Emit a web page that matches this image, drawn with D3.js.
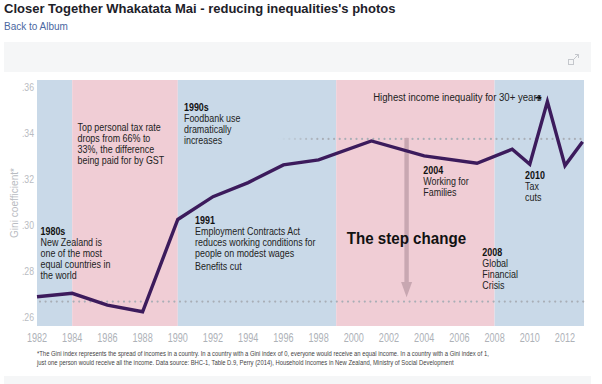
<!DOCTYPE html>
<html>
<head>
<meta charset="utf-8">
<script src="https://cdn.jsdelivr.net/npm/d3@7"></script>
<style>
  body { margin:0; background:#fff; }
  svg { display:block; }
</style>
</head>
<body>
<div id="chart"></div>
<script>
// gini coefficient, NZ household incomes
const years = [1982,1984,1986,1988,1990,1992,1994,1996,1998,2001,2004,2007,2009,2010,2011,2012,2013];
const gini  = [.2688,.2703,.2652,.2623,.3024,.3123,.3184,.3261,.3283,.3365,.3300,.3268,.3329,.3264,.3536,.3258,.3362];

const yearTicks = [1982,1984,1986,1988,1990,1992,1994,1996,1998,2000,2002,2004,2006,2008,2010,2012];
const giniTicks = [.26,.28,.30,.32,.34,.36];

// period edges, alternating blue / pink
const bandEdges = [1982,1984,1990,1999,2008,2013.08];
const refLevels = [.2667,.3374];

const notes = [
  {year:1982.2, value:.2971, head:"1980s", lines:["New Zealand is","one of the most","equal countries in","the world"]},
  {year:1984.3, value:.3425, head:null, lines:["Top personal tax rate","drops from 66% to","33%, the difference","being paid for by GST"]},
  {year:1990.35, value:.3510, head:"1990s", lines:["Foodbank use","dramatically","increases"]},
  {year:1990.98, value:.3019, head:"1991", lines:["Employment Contracts Act","reduces working conditions for","people on modest wages"], extra:"Benefits cut"},
  {year:2003.95, value:.3239, head:"2004", lines:["Working for","Families"]},
  {year:2009.73, value:.3217, head:"2010", lines:["Tax","cuts"]},
  {year:2007.3, value:.2880, head:"2008", lines:["Global","Financial","Crisis"]}
];

const W = 602, H = 384;
const svg = d3.select("#chart").append("svg").attr("width",W).attr("height",H);
const sans = "'Liberation Sans',Arial,sans-serif";

// condensed look: squeeze Liberation Sans horizontally
function label(parent, x, y, str, o) {
  o = o || {};
  return parent.append("text")
    .attr("transform",`translate(${x},${y}) scale(${o.sx||1},1)`)
    .attr("dy","0.35em")
    .attr("text-anchor",o.anchor||"start")
    .style("font",(o.bold?"bold ":"")+(o.size||10)+"px "+sans)
    .attr("fill",o.fill||"#222")
    .text(str);
}

// page chrome
svg.append("text").attr("x",4).attr("y",13)
  .style("font","bold 13px "+sans).attr("fill","#1d2129")
  .text("Closer Together Whakatata Mai - reducing inequalities's photos");
svg.append("text").attr("x",4).attr("y",30)
  .style("font","10px "+sans).attr("fill","#4b67a1")
  .text("Back to Album");
svg.append("rect").attr("x",4).attr("y",42).attr("width",587).attr("height",30).attr("fill","#f5f6f7");
svg.append("rect").attr("x",4).attr("y",376).attr("width",587).attr("height",10).attr("fill","#f5f6f7");
const ic = svg.append("g").attr("transform","translate(568,55)").attr("fill","none").attr("stroke","#c4c7cc").attr("stroke-width",1);
ic.append("rect").attr("x",0.5).attr("y",4.5).attr("width",5).attr("height",5);
ic.append("path").attr("d","M5.5,4.5 L10.5,-0.5 M7,-0.5 H10.5 V3");

const x = d3.scaleLinear().domain([1982,2013.08]).range([37,584]);
const y = d3.scaleLinear().domain([.2561,.3630]).range([326,80]);

// background periods
svg.append("g").selectAll("rect").data(d3.pairs(bandEdges)).join("rect")
  .attr("x",d=>x(d[0])).attr("width",d=>x(d[1])-x(d[0]))
  .attr("y",y.range()[1]).attr("height",y.range()[0]-y.range()[1])
  .attr("fill",(d,i)=>i%2 ? "#f0cdd5" : "#c9d9e8");

// dotted reference lines
const defs = svg.append("defs");
const fade = defs.append("linearGradient").attr("id","fade").attr("gradientUnits","userSpaceOnUse")
  .attr("x1",x(1995.7)).attr("x2",x(1998));
fade.append("stop").attr("offset",0).attr("stop-color","#a9aeb6").attr("stop-opacity",0);
fade.append("stop").attr("offset",1).attr("stop-color","#a9aeb6").attr("stop-opacity",1);

svg.append("line").attr("x1",x(1982)+3).attr("x2",x.range()[1])
  .attr("y1",y(refLevels[0])).attr("y2",y(refLevels[0]))
  .attr("stroke","#a9aeb6").attr("stroke-width",2.2).attr("stroke-dasharray","0 5.6").attr("stroke-linecap","round");
svg.append("line").attr("x1",x(1995.7)).attr("x2",x.range()[1])
  .attr("y1",y(refLevels[1])).attr("y2",y(refLevels[1]))
  .attr("stroke","url(#fade)").attr("stroke-width",2.2).attr("stroke-dasharray","0 5.6").attr("stroke-linecap","round");

// step change arrow
const ax = x(2003);
svg.append("rect").attr("x",ax-2.2).attr("width",4.4).attr("y",y(refLevels[1])-1).attr("height",y(.2752)-y(refLevels[1])+1)
  .attr("fill","#c8a7b1");
svg.append("path").attr("d",`M${ax-5.5},${y(.2752)} L${ax+5.5},${y(.2752)} L${ax},${y(.2686)} Z`).attr("fill","#c8a7b1");

// axes labels
const yl = svg.append("g");
giniTicks.forEach(d=>label(yl,34,y(d),d3.format(".2f")(d).slice(1),{size:11.6,sx:0.75,anchor:"end",fill:"#b9bcc2"}));
const xl = svg.append("g");
yearTicks.forEach(d=>label(xl,x(d),337,d,{size:13,sx:0.7,anchor:"middle",fill:"#aeb2b8"}));
svg.append("text").attr("transform","translate(14,203) rotate(-90) scale(0.92,1)").attr("text-anchor","middle").attr("dy","0.35em")
  .style("font","11px "+sans).attr("fill","#b9bcc2").text("Gini coefficient*");

// the line
svg.append("path").datum(years.map((yr,i)=>[yr,gini[i]]))
  .attr("fill","none").attr("stroke","#3c1b5c").attr("stroke-width",3.4).attr("stroke-linejoin","miter")
  .attr("d",d3.line().x(d=>x(d[0])).y(d=>y(d[1])));

// annotations
const body = {size:10.5, sx:0.85};
notes.forEach(n=>{
  const g = svg.append("g").attr("transform",`translate(${x(n.year)},${y(n.value)})`);
  let row = 0;
  if (n.head) {
    label(g,0,0,n.head,{...body,bold:true,fill:"#111"});
    row = 1;
  }
  n.lines.forEach((l,i)=>label(g,0,(row+i)*11,l,body));
  if (n.extra) label(g,0,(row+n.lines.length)*11+2,n.extra,body);
});

label(svg,x(2001.1),y(.3553),"Highest income inequality for 30+ years",{size:10,sx:0.96});
const hx = x(2010.6), hy = y(.3553);
svg.append("path").attr("d",`M${hx-5},${hy-0.7} H${hx-2} V${hy-2.8} L${hx+1.5},${hy} L${hx-2},${hy+2.8} V${hy+0.7} H${hx-5} Z`)
  .attr("fill","#111");

label(svg,x(1999.6),y(.2942),"The step change",{size:17,sx:0.89,bold:true,fill:"#111"});

// footnote
const foot = [
  "*The Gini index represents the spread of incomes in a country. In a country with a Gini index of 0, everyone would receive an equal income. In a country with a Gini index of 1,",
  "just one person would receive all the income. Data source: BHC-1, Table D.9, Perry (2014), Household Incomes in New Zealand, Ministry of Social Development"
];
const fg = svg.append("g");
foot.forEach((d,i)=>label(fg,37,354+i*8.7,d,{size:7,sx:0.84,fill:"#444"}));
</script>
</body>
</html>
